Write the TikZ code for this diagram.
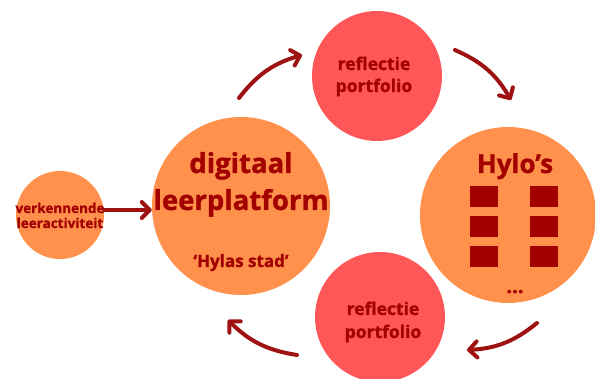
\documentclass[tikz,border=0pt]{standalone}
\usepackage{fontspec}
\setmainfont{Open Sans}[BoldFeatures={FakeBold=1.2}]
\usetikzlibrary{arrows.meta}
\definecolor{canvaorange}{RGB}{255,145,77}
\definecolor{canvared}{RGB}{255,87,87}
\definecolor{deepred}{RGB}{163,0,0}
\definecolor{arrowred}{RGB}{158,18,18}

\begin{document}
\begin{tikzpicture}[x=1pt,y=-1pt,
    blob/.style={circle, inner sep=0pt},
    flow/.style={arrowred, line width=4pt, line cap=round,
      -{Straight Barb[length=8pt,width=16pt,line join=round,line cap=round]}},
    lbl/.style={deepred, font=\bfseries, anchor=base, inner sep=0pt},
    hylo/.style={fill=deepred, minimum width=28pt, minimum height=21pt, inner sep=0pt}]
    \useasboundingbox (0,0) rectangle (595,379);

    % circles
    \node[blob, fill=canvaorange, minimum size=88pt] (verk) at (60,215) {};
    \node[blob, fill=canvaorange, minimum size=178pt] (platform) at (241,206) {};
    \node[blob, fill=canvared, minimum size=130pt] (refltop) at (377,76) {};
    \node[blob, fill=canvaorange, minimum size=176pt] (hylos) at (508,215) {};
    \node[blob, fill=canvared, minimum size=130pt] (reflbot) at (380,317) {};

    % texts
    \node[lbl, font=\bfseries\fontsize{13.5}{15}\selectfont] at (60,213) {verkennende};
    \node[lbl, font=\bfseries\fontsize{13.5}{15}\selectfont] at (60,228) {leeractiviteit};
    \node[lbl, font=\bfseries\fontsize{27.5}{34}\selectfont] at (241,173) {digitaal};
    \node[lbl, font=\bfseries\fontsize{27.5}{34}\selectfont] at (241,210) {leerplatform};
    \node[lbl, font=\bfseries\fontsize{17}{20}\selectfont] at (241,267) {‘Hylas stad’};
    \node[lbl, font=\bfseries\fontsize{17.5}{21}\selectfont] at (374,70) {reflectie};
    \node[lbl, font=\bfseries\fontsize{17.5}{21}\selectfont] at (374,92) {portfolio};
    \node[lbl, font=\bfseries\fontsize{17.5}{21}\selectfont] at (383,315) {reflectie};
    \node[lbl, font=\bfseries\fontsize{17.5}{21}\selectfont] at (383,338) {portfolio};
    \node[lbl, font=\bfseries\fontsize{26}{30}\selectfont] at (515,173) {Hylo’s};
    \node[lbl, font=\bfseries\fontsize{20}{24}\selectfont] at (515,293) {...};

    % hylo blocks
    \foreach \row/\yy in {1/196.5, 2/226.5, 3/256.5} {
        \node[hylo] (hyloL\row) at (484,\yy) {};
        \node[hylo] (hyloR\row) at (544,\yy) {};
    }

    % arrow ends
    \coordinate (upA) at (239,98);
    \coordinate (upB) at (302,55);
    \coordinate (downA) at (455,50);
    \coordinate (downB) at (511,100);
    \coordinate (backA) at (537,323);
    \coordinate (backB) at (467,350);
    \coordinate (leftA) at (297,355);
    \coordinate (leftB) at (228,320);

    % arrows
    \draw[flow] ([yshift=5pt]verk.east) -- ([yshift=5pt]verk.east -| platform.west);
    \draw[flow] (upA) to[bend left=18] (upB);
    \draw[flow] (downA) to[bend left=18] (downB);
    \draw[flow] (backA) to[bend left=18] (backB);
    \draw[flow] (leftA) to[bend left=18] (leftB);
\end{tikzpicture}
\end{document}
